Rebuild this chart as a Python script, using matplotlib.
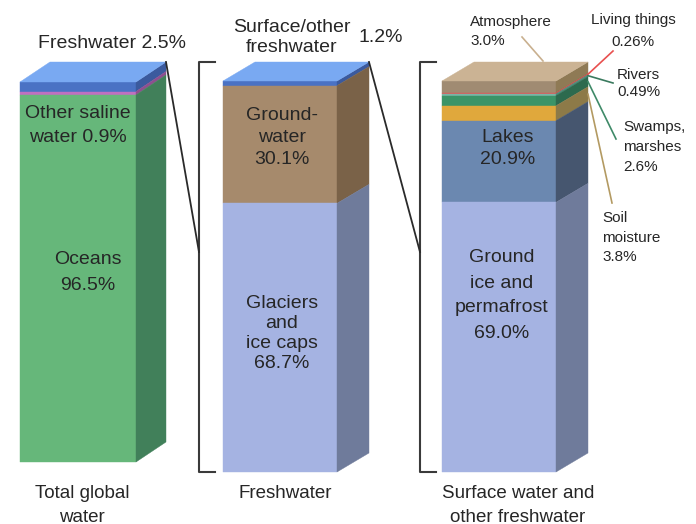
import matplotlib.pyplot as plt
from matplotlib.patches import Polygon

# ---- data ----
total_parts = ["Freshwater", "Other saline water", "Oceans"]
total_pct = [2.5, 0.9, 96.5]

fresh_parts = ["Surface/other freshwater", "Groundwater", "Glaciers and ice caps"]
fresh_pct = [1.2, 30.1, 68.7]

surface_parts = ["Atmosphere", "Living things", "Rivers", "Swamps, marshes",
                 "Soil moisture", "Lakes", "Ground ice and permafrost"]
surface_pct = [3.0, 0.26, 0.49, 2.6, 3.8, 20.9, 69.0]

bar_titles = ["Total global\nwater", "Freshwater", "Surface water and\nother freshwater"]

# colours (front face, side face, top face)
total_front = ["#4a72c4", "#c070c0", "#66b77a"]
total_side = ["#3b5a9e", "#8e4f90", "#41805a"]
fresh_front = ["#4a72c4", "#a68a6c", "#a5b3e2"]
fresh_side = ["#3b5a9e", "#7a6248", "#6f7b9b"]
surface_front = ["#a08b72", "#e05555", "#7ab5a5", "#3b9467", "#e0a83c", "#6b88b0", "#a5b3e2"]
surface_side = ["#8f7a55", "#d04545", "#4f8a78", "#2d6a4e", "#8d7a48", "#46566f", "#6f7b9b"]

plt.rcParams['font.family'] = ['Liberation Sans', 'DejaVu Sans']
TXT = "#262626"


def fmt(v):
    return f"{v:.2f}%" if v < 0.5 else f"{v:.1f}%"


def draw_bar(ax, x0, w, ytop, ybot, pct, fronts, sides, top_color, dx, dy):
    k = (ybot - ytop) / sum(pct)
    edges = [ytop]
    for p in pct:
        edges.append(edges[-1] + p * k)
    for i in range(len(pct)):
        y0, y1 = edges[i], edges[i + 1]
        ax.add_patch(Polygon([(x0, y0), (x0 + w, y0), (x0 + w, y1), (x0, y1)],
                             closed=True, fc=fronts[i], ec=fronts[i], lw=0.3))
        ax.add_patch(Polygon([(x0 + w, y0), (x0 + w + dx, y0 - dy),
                              (x0 + w + dx, y1 - dy), (x0 + w, y1)],
                             closed=True, fc=sides[i], ec=sides[i], lw=0.3))
    ax.add_patch(Polygon([(x0, ytop), (x0 + w, ytop), (x0 + w + dx, ytop - dy),
                          (x0 + dx, ytop - dy)], closed=True, fc=top_color,
                         ec=top_color, lw=0.3))
    return edges


def put_lines(ax, x, y_first, text, step, size=14, ha="center"):
    for i, line in enumerate(text.split("\n")):
        ax.text(x, y_first + i * step, line, ha=ha, va="center",
                fontsize=size, color=TXT)


fig = plt.figure(figsize=(6.96, 5.24), dpi=100)
ax = fig.add_axes([0, 0, 1, 1])
ax.set_xlim(0, 696)
ax.set_ylim(524, 0)
ax.axis("off")

# ---- bars ----
e1 = draw_bar(ax, 20, 116, 82, 462, total_pct, total_front, total_side, "#79a9f2", 30, 20)
e2 = draw_bar(ax, 223, 114, 81, 472, fresh_pct, fresh_front, fresh_side, "#79a9f2", 32, 19)
e3 = draw_bar(ax, 442, 114, 81, 472, surface_pct, surface_front, surface_side, "#cbb394", 32, 19)

# ---- brackets and connectors ----
for bx in [199, 420]:
    ax.plot([bx + 16, bx, bx, bx + 16], [62, 62, 472, 472], color="#3a3a3a", lw=1.5)
ax.plot([166, 199], [62, 252], color="#2a2a2a", lw=1.3)
ax.plot([369, 420], [62, 252], color="#2a2a2a", lw=1.3)

# ---- labels inside / above bars ----
ax.text(112, 43, f"{total_parts[0]} {fmt(total_pct[0])}", ha="center", va="center",
        fontsize=14, color=TXT)
put_lines(ax, 78, 113, f"Other saline\nwater {fmt(total_pct[1])}", 25)
put_lines(ax, 88, 260, f"{total_parts[2]}\n{fmt(total_pct[2])}", 25)

put_lines(ax, 292, 28, "Surface/other\nfreshwater", 20)
ax.text(381, 38, fmt(fresh_pct[0]), ha="center", va="center", fontsize=14, color=TXT)
put_lines(ax, 282, 115, f"Ground-\nwater\n{fmt(fresh_pct[1])}", 22.5)
put_lines(ax, 282, 303, f"Glaciers\nand\nice caps\n{fmt(fresh_pct[2])}", 20)

put_lines(ax, 508, 138, f"{surface_parts[5]}\n{fmt(surface_pct[5])}", 22)
put_lines(ax, 502, 258, f"Ground\nice and\npermafrost\n{fmt(surface_pct[6])}", 25)

# ---- small annotations on the right ----
mid = [(e3[i] + e3[i + 1]) / 2 - 19 for i in range(len(surface_pct))]
ax.plot([522, 543], [37, 61], color="#c9b08f", lw=1.2)
ax.plot([588, 613], [mid[1], 51], color="#e8504f", lw=1.2)
ax.plot([588, 613], [mid[2], 83], color="#3a7a5e", lw=1.2)
ax.plot([588, 616], [mid[3], 139], color="#3f8a68", lw=1.2)
ax.plot([588, 612], [mid[4], 203], color="#b39a62", lw=1.2)

put_lines(ax, 470, 22, f"{surface_parts[0]}\n{fmt(surface_pct[0])}", 19, 11, "left")
put_lines(ax, 633, 20, f"{surface_parts[1]}\n{fmt(surface_pct[1])}", 22, 11)
put_lines(ax, 617, 75, f"{surface_parts[2]}\n{fmt(surface_pct[2])}", 17, 11, "left")
put_lines(ax, 623, 127, f"Swamps,\nmarshes\n{fmt(surface_pct[3])}", 20, 11, "left")
put_lines(ax, 602, 218, f"Soil\nmoisture\n{fmt(surface_pct[4])}", 19.5, 11, "left")

# ---- bar titles ----
for x, t in zip([82, 285, 518], bar_titles):
    put_lines(ax, x, 493, t, 24, 13.5)

plt.savefig("out.png", dpi=100)
